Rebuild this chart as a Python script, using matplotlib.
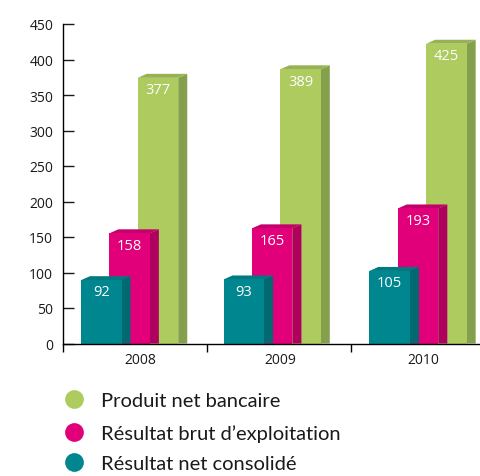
import matplotlib
matplotlib.use('Agg')
import matplotlib.pyplot as plt
from matplotlib.lines import Line2D

W, H = 481, 477
plt.rcParams['font.family'] = ['Open Sans', 'DejaVu Sans']

years = ['2008', '2009', '2010']
produit = [377, 389, 425]
brut = [158, 165, 193]
net = [92, 93, 105]
legend_labels = ['Produit net bancaire', 'Résultat brut d’exploitation', 'Résultat net consolidé']
yticks = [0, 50, 100, 150, 200, 250, 300, 350, 400, 450]

# back to front, same order as the picture
series = [
    (produit, 2, '#adcb5f', '#84a04c', '#96b252'),
    (brut, 1, '#e2007a', '#b0005f', '#c4006a'),
    (net, 0, '#00868f', '#006a70', '#007a80'),
]

fig = plt.figure(figsize=(W / 100, H / 100), dpi=100)
left, right, bottom, top = 63, 481, 344.5, 25
ax = fig.add_axes([left / W, 1 - bottom / H, (right - left) / W, (bottom - top) / H])
ax.set_xlim(0, (right - left) / 144)
ax.set_ylim(0, 450)

px_x = 1 / 144      # data units per pixel
px_y = 450 / (bottom - top)
bar_w = 40.5 * px_x
dx, dy = 9 * px_x, 4 * px_y
group_off = [0.125, 0.115, 0.128]

for vals, slot, col, side, cap in series:
    for i, v in enumerate(vals):
        x0 = i + group_off[i] + slot * 0.197
        x1 = x0 + bar_w
        y1 = v - dy / 2     # label value sits mid depth
        ax.fill([x1, x1 + dx, x1 + dx, x1], [0, 0, y1 + dy, y1], color=side, lw=0, zorder=2 + slot * -1)
        ax.fill([x0, x0 + dx, x1 + dx, x1], [y1, y1 + dy, y1 + dy, y1], color=cap, lw=0, zorder=2 + slot * -1)
        ax.bar(x0, y1, bar_w, align='edge', color=col, lw=0, zorder=2 + slot * -1)
        ax.annotate(str(v), (x0 + bar_w / 2, y1), xytext=(0, -8.5), textcoords='offset points',
                    ha='center', va='center', color='white', fontsize=10.5, zorder=6)

for s in ('top', 'right'):
    ax.spines[s].set_visible(False)
for s in ('left', 'bottom'):
    ax.spines[s].set_linewidth(1)
    ax.spines[s].set_zorder(8)

ax.set_yticks(yticks)
ax.tick_params(axis='y', direction='in', length=8, width=1, pad=7, labelsize=10, colors='#1a1a1a')
ax.set_xticks([0, 1, 2])
ax.set_xticklabels([])
ax.tick_params(axis='x', direction='out', length=6, width=1)
for x, y in zip((0.535, 1.51, 2.5), years):
    ax.text(x, -23, y, ha='center', va='center', fontsize=10, color='#1a1a1a')

for lab, yp, col in zip(legend_labels, (400, 433, 463), ('#adcb5f', '#e2007a', '#00868f')):
    fig.add_artist(Line2D([74 / W], [1 - yp / H], marker='o', markersize=13.5, color=col,
                          markeredgewidth=0, transform=fig.transFigure))
    fig.text(101 / W, 1 - (yp + 1.5) / H, lab, ha='left', va='center', fontsize=14.5,
             family=['Lato', 'Open Sans'], color='#1a1a1a')

fig.savefig('out.png', dpi=100, facecolor='white')
